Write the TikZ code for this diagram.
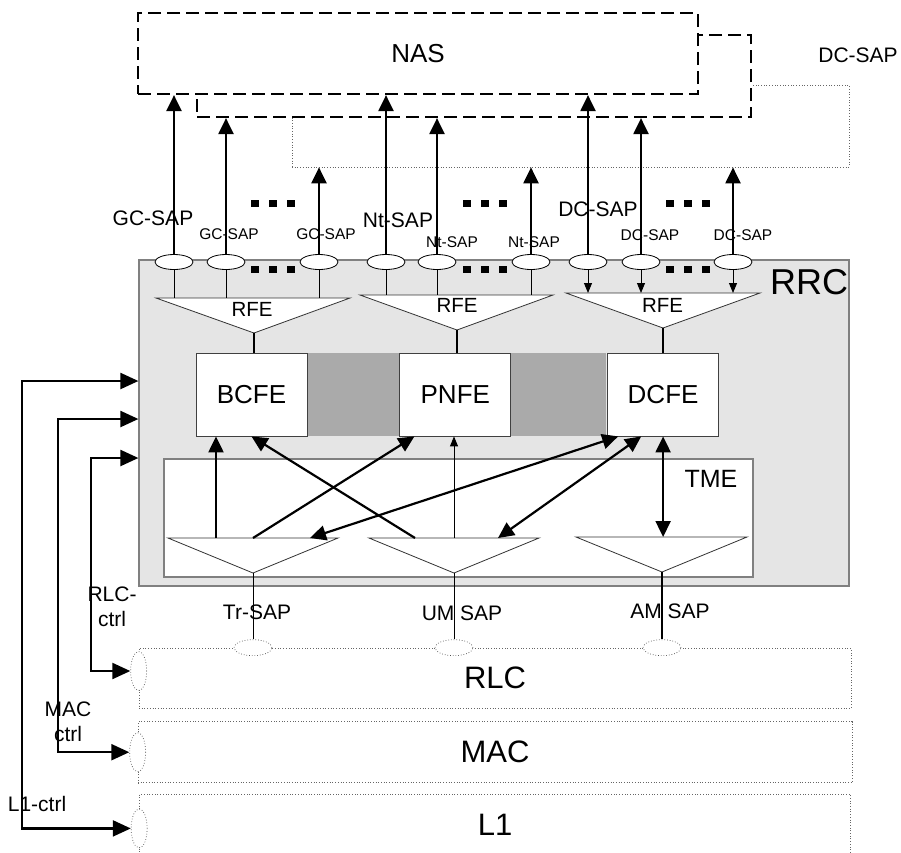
\documentclass[tikz,border=0pt]{standalone}
\usepackage{fontspec}
\setmainfont{Liberation Sans}
\usepackage{xcolor}
\usetikzlibrary{positioning, arrows.meta, shapes.geometric}
\definecolor{rrcgray}{RGB}{229, 229, 229}
\definecolor{gapgray}{RGB}{170, 170, 170}
\definecolor{edgegray}{RGB}{128, 128, 128}

\begin{document}
\begin{tikzpicture}[x=1pt, y=-1pt,
  every node/.style={align=center, inner sep=0pt},
  nasbox/.style={draw, fill=white, line width=2.2pt, dash pattern=on 13pt off 6pt},
  dotbox/.style={draw=black!60, dotted, line width=0.7pt},
  febox/.style={draw=black!75, fill=white, line width=0.8pt, minimum width=111pt, minimum height=83pt, font=\fontsize{26}{28}\selectfont},
  sap/.style={ellipse, draw, fill=white, line width=0.8pt, minimum width=38pt, minimum height=15pt},
  lsap/.style={ellipse, draw=black!70, dotted, fill=white, line width=0.7pt, minimum width=38pt, minimum height=16pt},
  csap/.style={ellipse, draw=black!70, dotted, fill=white, line width=0.7pt, minimum width=16pt, minimum height=39pt},
  tri/.style={draw=black!80, fill=white, line width=0.8pt},
  up/.style={-{Triangle[length=16pt, width=15pt]}, line width=2.2pt},
  both/.style={{Triangle[length=16pt, width=15pt]}-{Triangle[length=16pt, width=15pt]}, line width=2.2pt},
  ctrl/.style={{Triangle[length=18pt, width=16pt]}-{Triangle[length=18pt, width=16pt]}, line width=2.2pt},
  thinup/.style={-{Triangle[length=10pt, width=8pt]}, line width=0.9pt},
  biglbl/.style={font=\fontsize{21}{25}\selectfont},
  smalllbl/.style={font=\fontsize{15.5}{18}\selectfont},
  rfelbl/.style={font=\fontsize{20.5}{23}\selectfont},
  layer/.style={font=\fontsize{31}{33}\selectfont}]
  \useasboundingbox (0,0) rectangle (901,852);

  % NAS side
  \node[dotbox, minimum width=557pt, minimum height=82pt] (dcbox) at (570.5,126) {};
  \node[nasbox, minimum width=554pt, minimum height=82pt] (nasb) at (474,76) {};
  \node[nasbox, minimum width=560pt, minimum height=81pt, font=\fontsize{26}{28}\selectfont] (nas) at (418,53.5) {NAS};
  \node[biglbl] (dclbl) at (858,55) {DC-SAP};

  % RRC
  \node[draw=edgegray, fill=rrcgray, line width=1.2pt, minimum width=710pt, minimum height=326pt] (rrc) at (494,423) {};
  \node[font=\fontsize{36}{38}\selectfont] (rrclbl) at (809,282) {RRC};

  \node[fill=gapgray, minimum width=299pt, minimum height=83pt] (fegap) at (456.5,394.5) {};
  \node[febox] (bcfe) at (251.5,394.5) {BCFE};
  \node[febox, right=92pt of bcfe] (pnfe) {PNFE};
  \node[febox, right=96pt of pnfe] (dcfe) {DCFE};

  \node[draw=edgegray, fill=white, line width=1.2pt, minimum width=589pt, minimum height=118pt] (tme) at (458.5,518) {};
  \node[font=\fontsize{25}{27}\selectfont] (tmelbl) at (711,479) {TME};

  % RFE triangles
  \draw[tri] (156,298) coordinate (gcw) -- (350,298) coordinate (gce) -- (254,333) coordinate (gca) -- cycle;
  \draw[tri] (360,295) coordinate (ntw) -- (553,295) coordinate (nte) -- (457,330) coordinate (nta) -- cycle;
  \draw[tri] (566,293) coordinate (dcw) -- (760,293) coordinate (dce) -- (663,328) coordinate (dca) -- cycle;
  \node[rfelbl] (rfegc) at (252,309) {RFE};
  \node[rfelbl] (rfent) at (457,305.5) {RFE};
  \node[rfelbl] (rfedc) at (662.5,305) {RFE};

  \draw[line width=1.2pt] (gca) -- (bcfe.north -| gca);
  \draw[line width=1.2pt] (nta) -- (pnfe.north -| nta);
  \draw[line width=1.2pt] (dca) -- (dcfe.north -| dca);

  % SAP triangles in TME
  \draw[tri] (168,538) coordinate (trw) -- (338,538) coordinate (tre) -- (253,573) coordinate (tra) -- cycle;
  \draw[tri] (369,538) coordinate (umw) -- (539,538) coordinate (ume) -- (454,573) coordinate (uma) -- cycle;
  \draw[tri] (576,537) coordinate (amw) -- (747,537) coordinate (ame) -- (662,572) coordinate (ama) -- cycle;

  % upper SAPs
  \node[sap] (gc1) at (174,262) {};
  \node[sap] (gc2) at (226,262) {};
  \node[sap] (gc3) at (319,262) {};
  \node[sap] (nt1) at (386,262) {};
  \node[sap] (nt2) at (437,262) {};
  \node[sap] (nt3) at (531,262) {};
  \node[sap] (dc1) at (588,262) {};
  \node[sap] (dc2) at (641,262) {};
  \node[sap] (dc3) at (733,262) {};

  \draw[line width=0.8pt] (gc1.south) -- (gc1.south |- gcw);
  \draw[line width=0.8pt] (gc2.south) -- (gc2.south |- gcw);
  \draw[line width=0.8pt] (gc3.south) -- (gc3.south |- gcw);
  \draw[line width=0.8pt] (nt1.south) -- (nt1.south |- ntw);
  \draw[line width=0.8pt] (nt2.south) -- (nt2.south |- ntw);
  \draw[line width=0.8pt] (nt3.south) -- (nt3.south |- ntw);
  \draw[thinup] (dc1.south) -- (dc1.south |- dcw);
  \draw[thinup] (dc2.south) -- (dc2.south |- dcw);
  \draw[thinup] (dc3.south) -- (dc3.south |- dcw);

  \draw[up] (gc1.north) -- (gc1 |- nas.south);
  \draw[up] (gc2.north) -- (gc2 |- nasb.south);
  \draw[up] (gc3.north) -- (gc3 |- dcbox.south);
  \draw[up] (nt1.north) -- (nt1 |- nas.south);
  \draw[up] (nt2.north) -- (nt2 |- nasb.south);
  \draw[up] (nt3.north) -- (nt3 |- dcbox.south);
  \draw[up] (dc1.north) -- (dc1 |- nas.south);
  \draw[up] (dc2.north) -- (dc2 |- nasb.south);
  \draw[up] (dc3.north) -- (dc3 |- dcbox.south);

  \node[biglbl] (gclbl) at (153,218.5) {GC-SAP};
  \node[smalllbl] (gclbl2) at (229,234) {GC-SAP};
  \node[smalllbl] (gclbl3) at (326,234) {GC-SAP};
  \node[biglbl] (ntlbl) at (398,220) {Nt-SAP};
  \node[smalllbl] (ntlbl2) at (452,242.5) {Nt-SAP};
  \node[smalllbl] (ntlbl3) at (534,242.5) {Nt-SAP};
  \node[biglbl] (dclbl1) at (598,209) {DC-SAP};
  \node[smalllbl] (dclbl2) at (650,235) {DC-SAP};
  \node[smalllbl] (dclbl3) at (743,235) {DC-SAP};

  \foreach \cx in {273,485,688}
    \foreach \cy in {203,269}
      \foreach \d in {-18,0,18}
        \fill (\cx+\d-4,\cy-3.5) rectangle ++(8,7);

  % arrows between TME and the entities
  \coordinate (tr1) at (216,538);
  \coordinate (tr3) at (310,538);
  \coordinate (um1) at (415,538);
  \coordinate (um3) at (498,538);
  \draw[up] (tr1) -- (bcfe.south -| tr1);
  \draw[up] (tra |- trw) -- ([xshift=15pt]pnfe.south west);
  \draw[up] (um1) -- (bcfe.south);
  \draw[thinup] (uma |- umw) -- (pnfe.south -| uma);
  \draw[both] (tr3) -- ([xshift=11pt]dcfe.south west);
  \draw[both] (um3) -- ([xshift=34pt]dcfe.south west);
  \draw[both] (dcfe.south |- amw) -- (dcfe.south);

  % lower layers
  \node[dotbox, layer, minimum width=712pt, minimum height=60pt] (rlc) at (495,678) {RLC};
  \node[dotbox, layer, minimum width=714pt, minimum height=61pt, below=13pt of rlc] (mac) {MAC};
  \node[dotbox, layer, minimum width=711pt, minimum height=60pt, below=11pt of mac] (l1) {L1};

  \node[lsap] (trsap) at (tra |- rlc.north) {};
  \node[lsap] (umsap) at (uma |- rlc.north) {};
  \node[lsap] (amsap) at (ama |- rlc.north) {};
  \node[csap] (rlcsap) at ([yshift=7pt]rlc.west) {};
  \node[csap] (macsap) at (mac.west) {};
  \node[csap] (l1sap) at ([yshift=-4pt]l1.west) {};

  \draw[line width=0.8pt] (tra) -- (trsap.north);
  \draw[line width=0.8pt] (uma) -- (umsap.north);
  \draw[line width=1.8pt] (ama) -- (amsap.north);

  \node[biglbl] (trlbl) at (257,612.5) {Tr-SAP};
  \node[biglbl] (umlbl) at (462,613) {UM SAP};
  \node[biglbl] (amlbl) at (670,611) {AM SAP};

  % control paths
  \coordinate (l1c) at (22,381);
  \coordinate (macc) at (58,419);
  \coordinate (rlcc) at (91,458);
  \draw[ctrl] (rrc.west |- l1c) -- (l1c) |- (l1sap.west);
  \draw[ctrl] (rrc.west |- macc) -- (macc) |- (macsap.west);
  \draw[ctrl] (rrc.west |- rlcc) -- (rlcc) |- (rlcsap.west);

  \node[biglbl] (rlcclbl) at (112,607) {RLC-\\ctrl};
  \node[biglbl] (macclbl) at (68,721.5) {MAC\\ctrl};
  \node[biglbl] (l1clbl) at (37,804) {L1-ctrl};
\end{tikzpicture}
\end{document}
